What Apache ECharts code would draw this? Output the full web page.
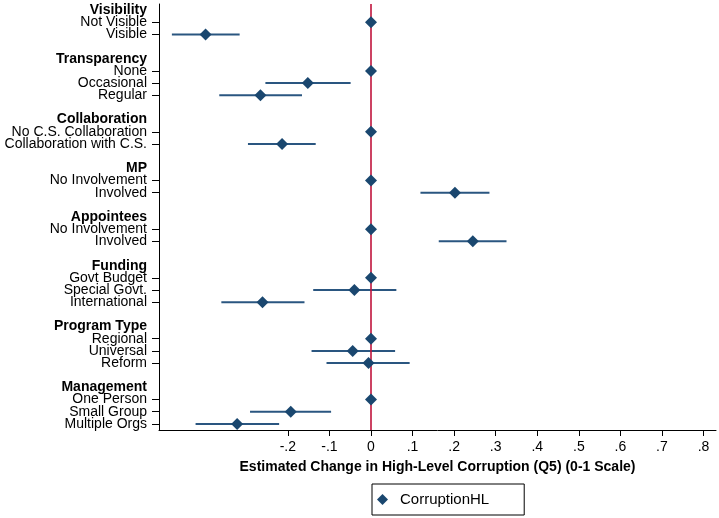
<!DOCTYPE html>
<html>
<head>
<meta charset="utf-8">
<script src="https://cdn.jsdelivr.net/npm/echarts@6/dist/echarts.min.js"></script>
<style>
html,body{margin:0;padding:0;background:#fff;}
#chart{width:719px;height:518px;}
</style>
</head>
<body>
<div id="chart"></div>
<script>
// Row labels (top to bottom); '' = spacer row
const rowLabels = [
  'Visibility', 'Not Visible', 'Visible', '',
  'Transparency', 'None', 'Occasional', 'Regular', '',
  'Collaboration', 'No C.S. Collaboration', 'Collaboration with C.S.', '',
  'MP', 'No Involvement', 'Involved', '',
  'Appointees', 'No Involvement', 'Involved', '',
  'Funding', 'Govt Budget', 'Special Govt.', 'International', '',
  'Program Type', 'Regional', 'Universal', 'Reform', '',
  'Management', 'One Person', 'Small Group', 'Multiple Orgs'
];
const headers = ['Visibility', 'Transparency', 'Collaboration', 'MP', 'Appointees', 'Funding', 'Program Type', 'Management'];

// Point estimates and 95% CI bounds, aligned with rowLabels (null = no mark)
const estimate = [null, 0, -0.398, null,
  null, 0, -0.152, -0.266, null,
  null, 0, -0.214, null,
  null, 0, 0.202, null,
  null, 0, 0.245, null,
  null, 0, -0.040, -0.261, null,
  null, 0, -0.044, -0.006, null,
  null, 0, -0.193, -0.322];
const ciLow = [null, null, -0.479, null,
  null, null, -0.254, -0.365, null,
  null, null, -0.296, null,
  null, null, 0.119, null,
  null, null, 0.163, null,
  null, null, -0.139, -0.360, null,
  null, null, -0.143, -0.107, null,
  null, null, -0.291, -0.422];
const ciHigh = [null, null, -0.316, null,
  null, null, -0.049, -0.166, null,
  null, null, -0.133, null,
  null, null, 0.285, null,
  null, null, 0.326, null,
  null, null, 0.061, -0.160, null,
  null, null, 0.058, 0.093, null,
  null, null, -0.096, -0.221];

const xTicks = [-0.2, -0.1, 0, 0.1, 0.2, 0.3, 0.4, 0.5, 0.6, 0.7, 0.8];
const refValue = 0;
const seriesName = 'CorruptionHL';
const xTitle = 'Estimated Change in High-Level Corruption (Q5) (0-1 Scale)';

const navy = '#1a476f';
const ciColor = '#2a5680';
const refColor = '#c0143c';
const FONT = '"Liberation Sans", Arial, Helvetica, sans-serif';

const headerSet = new Set(headers);
const isItem = (i) => rowLabels[i] !== '' && !headerSet.has(rowLabels[i]);

const pointData = [];
const ciSeries = [];
estimate.forEach((v, i) => {
  if (v !== null) pointData.push([v, i]);
  if (ciLow[i] !== null) {
    ciSeries.push({
      type: 'line',
      name: 'ci' + i,
      data: [[ciLow[i], i], [ciHigh[i], i]],
      symbol: 'none',
      silent: true,
      lineStyle: {color: ciColor, width: 2},
      z: 1
    });
  }
});

function fmtTick(v) {
  if (Math.abs(v) < 1e-9) return '0';
  const s = Math.abs(v).toFixed(1).replace(/^0/, '');
  return (v < 0 ? '-' : '') + s;
}

const chart = echarts.init(document.getElementById('chart'), null, {renderer: 'canvas'});
chart.setOption({
  animation: false,
  backgroundColor: '#ffffff',
  textStyle: {fontFamily: FONT},
  grid: {left: 159, right: 3, top: 4, bottom: 88, containLabel: false},
  xAxis: {
    type: 'value',
    min: -0.51,
    max: 0.83,
    splitLine: {show: false},
    axisLine: {show: true, onZero: false, lineStyle: {color: '#000', width: 1}},
    axisTick: {show: true, length: 6, customValues: xTicks, lineStyle: {color: '#000'}},
    axisLabel: {
      customValues: xTicks,
      formatter: fmtTick,
      color: '#000',
      fontSize: 14,
      fontFamily: FONT,
      margin: 10
    },
    name: xTitle,
    nameLocation: 'middle',
    nameGap: 30,
    nameTextStyle: {fontSize: 14, fontWeight: 'bold', color: '#000', fontFamily: FONT}
  },
  yAxis: {
    type: 'category',
    inverse: true,
    data: rowLabels,
    boundaryGap: true,
    axisLine: {show: true, onZero: false, lineStyle: {color: '#000', width: 1}},
    axisTick: {
      show: true,
      alignWithLabel: true,
      length: 7,
      interval: (idx) => isItem(idx),
      lineStyle: {color: '#000'}
    },
    axisLabel: {
      interval: 0,
      margin: 12,
      color: '#000',
      fontSize: 14,
      fontFamily: FONT,
      formatter: (val) => headerSet.has(val) ? '{h|' + val + '}' : val,
      rich: {
        h: {fontWeight: 'bold', fontSize: 14, color: '#000', fontFamily: FONT}
      }
    },
    splitLine: {show: false}
  },
  legend: {
    show: true,
    data: [{name: seriesName, icon: 'diamond', itemStyle: {color: navy, opacity: 1}}],
    left: 372,
    top: 484,
    orient: 'horizontal',
    itemWidth: 11,
    itemHeight: 11,
    itemGap: 10,
    padding: [8, 35, 8, 5],
    borderColor: '#000',
    borderWidth: 1,
    borderRadius: 0,
    textStyle: {fontSize: 15, color: '#000', fontFamily: FONT, padding: [0, 0, 0, 7]}
  },
  series: ciSeries.concat([
    {
      type: 'line',
      name: 'ref',
      data: [],
      z: 3,
      silent: true,
      markLine: {
        silent: true,
        symbol: ['none', 'none'],
        label: {show: false},
        lineStyle: {color: refColor, width: 1.6, type: 'solid'},
        data: [{xAxis: refValue}]
      }
    },
    {
      type: 'scatter',
      name: seriesName,
      data: pointData,
      symbol: 'diamond',
      symbolSize: [12, 12],
      itemStyle: {color: navy, opacity: 1},
      z: 5
    }
  ])
});
</script>
</body>
</html>
